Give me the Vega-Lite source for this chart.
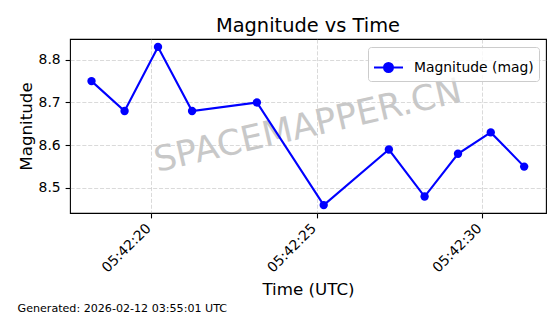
{
  "$schema": "https://vega.github.io/schema/vega-lite/v6.json",
  "padding": {"left": 17, "top": 15, "right": 14, "bottom": 4},
  "title": {
    "text": "Generated: 2026-02-12 03:55:01 UTC",
    "orient": "bottom",
    "anchor": "start",
    "frame": "bounds",
    "fontSize": 11.1,
    "fontWeight": "normal",
    "font": "DejaVu Sans",
    "color": "black",
    "offset": 4
  },
  "vconcat": [
    {
      "width": 476,
      "height": 174,
      "title": {
        "text": "Magnitude vs Time",
        "fontSize": 19.4,
        "fontWeight": "normal",
        "font": "DejaVu Sans",
        "color": "black",
        "anchor": "middle",
        "offset": 3
      },
      "layer": [
        {
          "data": {"values": [{"time": "2026-02-12T05:42:24.730Z", "mag": 8.645, "label": "SPACEMAPPER.CN"}]},
          "mark": {"type": "text", "angle": 347, "fontSize": 35, "font": "DejaVu Sans", "fill": "#c8c8c8", "align": "center", "baseline": "middle"},
          "encoding": {
            "x": {"field": "time", "type": "temporal"},
            "y": {"field": "mag", "type": "quantitative"},
            "text": {"field": "label", "type": "nominal"}
          }
        },
        {
          "data": {"name": "main"},
          "mark": {"type": "line", "strokeWidth": 2.1},
          "encoding": {
            "x": {"field": "time", "type": "temporal"},
            "y": {"field": "mag", "type": "quantitative"},
            "color": {
              "field": "series",
              "type": "nominal",
              "scale": {"range": ["#0000ff"]},
              "legend": {
                "title": null,
                "orient": "top-right",
                "offset": 7.5,
                "symbolType": "M -1 0 L -0.31 0 M 0.31 0 A 0.31 0.31 0 1 1 -0.31 0 A 0.31 0.31 0 1 1 0.31 0 Z M 0.31 0 L 1 0",
                "symbolSize": 841,
                "symbolStrokeWidth": 2,
                "labelFontSize": 13.9,
                "labelFont": "DejaVu Sans",
                "labelColor": "black",
                "labelOffset": 10,
                "strokeColor": "#cccccc",
                "fillColor": "rgba(255,255,255,0.8)",
                "cornerRadius": 3,
                "padding": 5,
                "encode": {
                  "symbols": {"update": {"fill": {"value": "#0000ff"}, "stroke": {"value": "#0000ff"}, "strokeWidth": {"value": 2}, "opacity": {"value": 1}}}
                }
              }
            }
          }
        },
        {
          "data": {"name": "main"},
          "mark": {"type": "point", "filled": true, "opacity": 1, "size": 70},
          "encoding": {
            "x": {"field": "time", "type": "temporal"},
            "y": {"field": "mag", "type": "quantitative"},
            "color": {"field": "series", "type": "nominal"}
          }
        }
      ],
      "encoding": {
        "x": {
          "field": "time",
          "type": "temporal",
          "scale": {
            "type": "utc",
            "domain": [
              {"year": 2026, "month": 2, "date": 12, "hours": 5, "minutes": 42, "seconds": 17, "milliseconds": 540, "utc": true},
              {"year": 2026, "month": 2, "date": 12, "hours": 5, "minutes": 42, "seconds": 31, "milliseconds": 930, "utc": true}
            ]
          },
          "axis": {
            "title": "Time (UTC)",
            "values": [
              {"year": 2026, "month": 2, "date": 12, "hours": 5, "minutes": 42, "seconds": 20, "utc": true},
              {"year": 2026, "month": 2, "date": 12, "hours": 5, "minutes": 42, "seconds": 25, "utc": true},
              {"year": 2026, "month": 2, "date": 12, "hours": 5, "minutes": 42, "seconds": 30, "utc": true}
            ],
            "format": "%H:%M:%S",
            "labelAngle": -45,
            "labelAlign": "right",
            "labelBaseline": "top",
            "labelOffset": -8,
            "labelPadding": 3,
            "titlePadding": 7
          }
        },
        "y": {
          "field": "mag",
          "type": "quantitative",
          "scale": {"domain": [8.4415, 8.8485], "nice": false, "zero": false},
          "axis": {"title": "Magnitude", "values": [8.5, 8.6, 8.7, 8.8], "format": ".1f", "titlePadding": 3}
        }
      }
    }
  ],
  "datasets": {
    "main": [
      {"time": "2026-02-12T05:42:18.190Z", "mag": 8.75, "series": "Magnitude (mag)"},
      {"time": "2026-02-12T05:42:19.190Z", "mag": 8.68, "series": "Magnitude (mag)"},
      {"time": "2026-02-12T05:42:20.200Z", "mag": 8.83, "series": "Magnitude (mag)"},
      {"time": "2026-02-12T05:42:21.230Z", "mag": 8.68, "series": "Magnitude (mag)"},
      {"time": "2026-02-12T05:42:23.190Z", "mag": 8.70, "series": "Magnitude (mag)"},
      {"time": "2026-02-12T05:42:25.210Z", "mag": 8.46, "series": "Magnitude (mag)"},
      {"time": "2026-02-12T05:42:27.180Z", "mag": 8.59, "series": "Magnitude (mag)"},
      {"time": "2026-02-12T05:42:28.260Z", "mag": 8.48, "series": "Magnitude (mag)"},
      {"time": "2026-02-12T05:42:29.270Z", "mag": 8.58, "series": "Magnitude (mag)"},
      {"time": "2026-02-12T05:42:30.260Z", "mag": 8.63, "series": "Magnitude (mag)"},
      {"time": "2026-02-12T05:42:31.270Z", "mag": 8.55, "series": "Magnitude (mag)"}
    ]
  },
  "config": {
    "font": "DejaVu Sans",
    "view": {"stroke": "black", "strokeWidth": 1.1},
    "axis": {
      "labelFont": "DejaVu Sans",
      "titleFont": "DejaVu Sans",
      "labelColor": "black",
      "titleColor": "black",
      "labelFontSize": 13.9,
      "titleFontSize": 16.7,
      "titleFontWeight": "normal",
      "tickColor": "black",
      "tickSize": 4.9,
      "tickWidth": 1.1,
      "domain": false,
      "gridColor": "#b0b0b0",
      "gridOpacity": 0.6,
      "gridDash": [4.1, 1.8],
      "gridWidth": 0.8,
      "labelPadding": 4.9
    }
  }
}
